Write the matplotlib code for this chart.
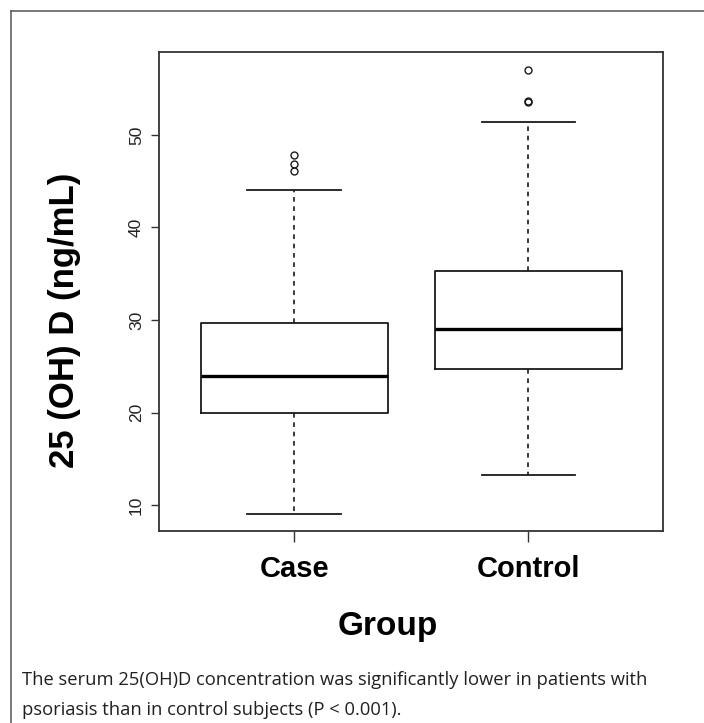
import matplotlib
matplotlib.use('Agg')
import matplotlib.pyplot as plt
from matplotlib.lines import Line2D

# valores (ng/mL)
groups = ['Case', 'Control']
whisker_low = [9.05, 13.2]
q1 = [20.0, 24.65]
median = [23.9, 29.0]
q3 = [29.65, 35.3]
whisker_high = [44.1, 51.4]
outliers = [[46.1, 46.9, 47.8], [53.6, 53.7, 57.0]]
yticks = [10, 20, 30, 40, 50]

caption_1 = 'The serum 25(OH)D concentration was significantly lower in patients with'
caption_2 = 'psoriasis than in control subjects (P < 0.001).'

W, H = 704, 723
fig = plt.figure(figsize=(W / 100, H / 100), dpi=100)
ax = fig.add_axes([159.4 / W, 1 - 531 / H, (663 - 159.4) / W, (531 - 52.3) / H])

stats = []
for i in range(len(groups)):
    stats.append({'whislo': whisker_low[i], 'q1': q1[i], 'med': median[i],
                  'q3': q3[i], 'whishi': whisker_high[i], 'fliers': outliers[i],
                  'label': groups[i]})

ink = '#1a1a1a'
ax.bxp(stats, positions=[1, 2], widths=0.8, capwidths=0.4,
       boxprops=dict(color=ink, linewidth=1.3),
       medianprops=dict(color='black', linewidth=2.4),
       whiskerprops=dict(color=ink, linewidth=1.2, linestyle=(0, (2.8, 2.8))),
       capprops=dict(color=ink, linewidth=1.3),
       flierprops=dict(marker='o', markersize=5, markerfacecolor='none',
                       markeredgecolor=ink, markeredgewidth=1.0))

ax.set_xlim(0.424, 2.575)
ax.set_ylim(7.19, 58.94)
ax.set_yticks(yticks)
ax.set_yticklabels([str(t) for t in yticks], rotation=90, va='center',
                   fontsize=12.5, family='Liberation Sans', color='#222222')
ax.set_xticks([1, 2])
ax.set_xticklabels(groups, fontsize=21, fontweight='bold', family='Liberation Sans')
ax.tick_params(axis='y', length=6, width=1.0, pad=5, color='#333333')
ax.tick_params(axis='x', length=8, width=1.0, pad=9, color='#333333')
for s in ax.spines.values():
    s.set_linewidth(1.3)
    s.set_color('#333333')

fig.text(65 / W, 1 - 320 / H, '25 (OH) D (ng/mL)', rotation=90, ha='center', va='center',
         fontsize=25, fontweight='bold', family='Liberation Sans')
fig.text(388 / W, 1 - 627 / H, 'Group', ha='center', va='center',
         fontsize=24, fontweight='bold', family='Liberation Sans')

fig.text(22 / W, 1 - 680 / H, caption_1, ha='left', va='center',
         fontsize=13.2, family='Open Sans', color='#231f20')
fig.text(22 / W, 1 - 710 / H, caption_2, ha='left', va='center',
         fontsize=13.2, family='Open Sans', color='#231f20')

# moldura externa
fig.add_artist(Line2D([10.5 / W, 1], [1 - 10.7 / H, 1 - 10.7 / H], transform=fig.transFigure,
                      color='#555555', linewidth=1.1))
fig.add_artist(Line2D([10.5 / W, 10.5 / W], [0, 1 - 10.7 / H], transform=fig.transFigure,
                      color='#555555', linewidth=1.1))

fig.savefig('out.png', dpi=100)
